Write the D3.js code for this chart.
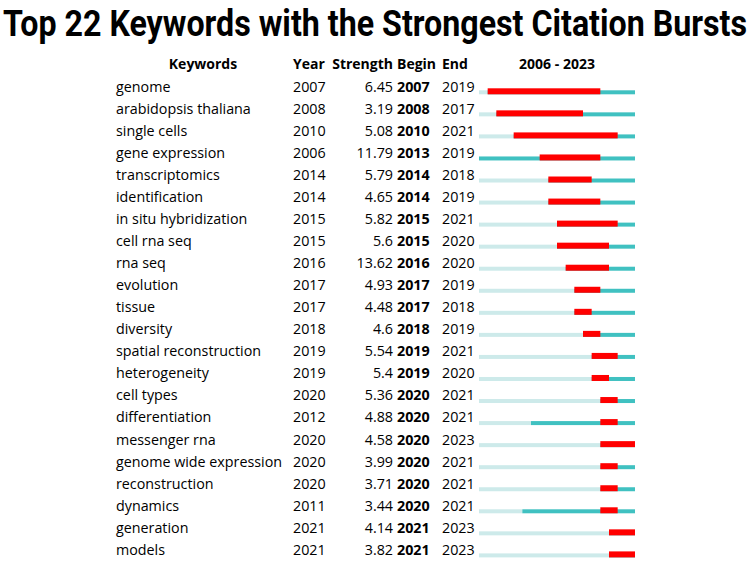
<!DOCTYPE html>
<html>
<head>
<meta charset="utf-8">
<script src="https://cdn.jsdelivr.net/npm/d3@7"></script>
<style>
  body { margin: 0; background: #fff; }
  text { font-family: "Open Sans", "Noto Sans", sans-serif; fill: #000; }
  .title { font-family: Roboto, "Open Sans", sans-serif; font-weight: bold; }
  .head { font-weight: bold; font-size: 14px; }
  .cell { font-size: 14.3px; }
  .begin { font-weight: bold; }
</style>
</head>
<body>
<div id="chart"></div>
<script>
// burst table data
var keywords = ["genome", "arabidopsis thaliana", "single cells", "gene expression", "transcriptomics",
  "identification", "in situ hybridization", "cell rna seq", "rna seq", "evolution", "tissue",
  "diversity", "spatial reconstruction", "heterogeneity", "cell types", "differentiation",
  "messenger rna", "genome wide expression", "reconstruction", "dynamics", "generation", "models"];
var years = [2007, 2008, 2010, 2006, 2014, 2014, 2015, 2015, 2016, 2017, 2017,
  2018, 2019, 2019, 2020, 2012, 2020, 2020, 2020, 2011, 2021, 2021];
var strengths = ["6.45", "3.19", "5.08", "11.79", "5.79", "4.65", "5.82", "5.6", "13.62", "4.93", "4.48",
  "4.6", "5.54", "5.4", "5.36", "4.88", "4.58", "3.99", "3.71", "3.44", "4.14", "3.82"];
var begins = [2007, 2008, 2010, 2013, 2014, 2014, 2015, 2015, 2016, 2017, 2017,
  2018, 2019, 2019, 2020, 2020, 2020, 2020, 2020, 2020, 2021, 2021];
var ends = [2019, 2017, 2021, 2019, 2018, 2019, 2021, 2020, 2020, 2019, 2018,
  2019, 2021, 2020, 2021, 2021, 2023, 2021, 2021, 2021, 2023, 2023];
var firstYear = 2006, lastYear = 2023;

var width = 751, height = 564;
var svg = d3.select("#chart").append("svg").attr("width", width).attr("height", height);

var rows = keywords.map(function(k, i) {
  return {kw: k, year: years[i], str: strengths[i], begin: begins[i], end: ends[i], i: i};
});

// scales
var x = d3.scaleLinear().domain([firstYear, lastYear + 1]).range([479, 635]);
var y = d3.scaleLinear().domain([0, rows.length - 1]).range([91.7, 554.8]); // text baselines

// title (stretched vertically so it fills the width like the original)
svg.append("g").attr("transform", "translate(3,35.5) scale(1,1.18)")
  .append("text").attr("class", "title")
  .attr("x", 0).attr("y", 0)
  .attr("font-size", 32)
  .attr("textLength", 744).attr("lengthAdjust", "spacingAndGlyphs")
  .text("Top 22 Keywords with the Strongest Citation Bursts");

// column headers
var hy = 69;
svg.append("text").attr("class", "head").attr("x", 203).attr("y", hy).attr("text-anchor", "middle").text("Keywords");
svg.append("text").attr("class", "head").attr("x", 293).attr("y", hy).text("Year");
svg.append("text").attr("class", "head").attr("x", 393).attr("y", hy).attr("text-anchor", "end").text("Strength");
svg.append("text").attr("class", "head").attr("x", 397).attr("y", hy).text("Begin");
svg.append("text").attr("class", "head").attr("x", 442).attr("y", hy).text("End");
svg.append("text").attr("class", "head").attr("x", (x.range()[0] + x.range()[1]) / 2).attr("y", hy)
  .attr("text-anchor", "middle").text(firstYear + " - " + lastYear);

var row = svg.selectAll("g.row").data(rows).enter().append("g").attr("class", "row")
  .attr("transform", function(d) { return "translate(0," + y(d.i) + ")"; });

row.append("text").attr("class", "cell").attr("x", 116).text(function(d) { return d.kw; });
row.append("text").attr("class", "cell").attr("x", 293).text(function(d) { return d.year; });
row.append("text").attr("class", "cell").attr("x", 393).attr("text-anchor", "end").text(function(d) { return d.str; });
row.append("text").attr("class", "cell begin").attr("x", 397).text(function(d) { return d.begin; });
row.append("text").attr("class", "cell").attr("x", 442).text(function(d) { return d.end; });

// timeline: light before the keyword appears, teal after, red for burst
row.append("rect").attr("x", x(firstYear)).attr("y", -1.4).attr("height", 4)
  .attr("width", function(d) { return x(d.year) - x(firstYear); })
  .attr("fill", "#cdeaea");
row.append("rect").attr("x", function(d) { return x(d.year); }).attr("y", -1.4).attr("height", 4)
  .attr("width", function(d) { return x(lastYear + 1) - x(d.year); })
  .attr("fill", "#40c1c1");
row.append("rect").attr("x", function(d) { return x(d.begin); }).attr("y", -3.4).attr("height", 6)
  .attr("width", function(d) { return x(d.end + 1) - x(d.begin); })
  .attr("fill", "#ff0000");
</script>
</body>
</html>
